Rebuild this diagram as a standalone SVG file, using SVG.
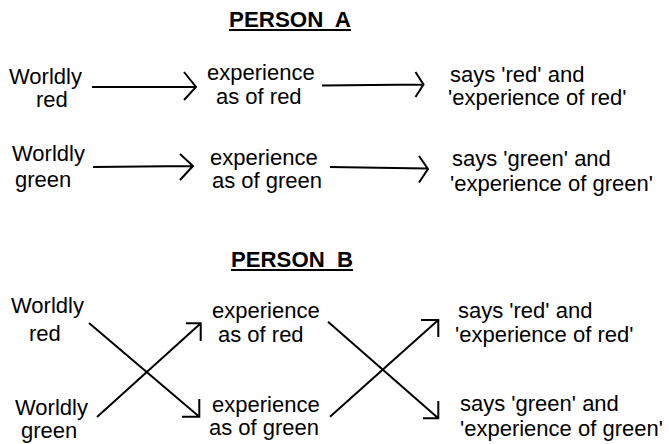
<svg xmlns="http://www.w3.org/2000/svg" width="669" height="444" viewBox="0 0 669 444">
<style>
text{font-family:"Liberation Sans",Arial,sans-serif;font-size:22px;fill:#000}
.title{font-weight:bold;white-space:pre}
.ln{fill:none;stroke:#000;stroke-width:2;stroke-linecap:butt;stroke-linejoin:miter}
</style>
<rect width="669" height="444" fill="#fff"/>
<g id="titleA">
<text class="title" x="229" y="27" textLength="122" lengthAdjust="spacingAndGlyphs" xml:space="preserve">PERSON  A</text>
<line class="ln" x1="229" y1="30" x2="351" y2="30"/>
</g>
<g id="titleB">
<text class="title" x="231" y="267" textLength="122" lengthAdjust="spacingAndGlyphs" xml:space="preserve">PERSON  B</text>
<line class="ln" x1="231" y1="270" x2="353" y2="270"/>
</g>
<g id="A-worldly-red"><text x="9" y="84">Worldly</text><text x="36" y="107">red</text></g>
<g id="A-exp-red"><text x="207" y="80">experience</text><text x="216" y="104">as of red</text></g>
<g id="A-says-red"><text x="450" y="82">says 'red' and</text><text x="448" y="105">'experience of red'</text></g>
<g id="A-worldly-green"><text x="12" y="161">Worldly</text><text x="15" y="187">green</text></g>
<g id="A-exp-green"><text x="210" y="165">experience</text><text x="212" y="188">as of green</text></g>
<g id="A-says-green"><text x="452" y="166">says 'green' and</text><text x="450" y="191">'experience of green'</text></g>
<g id="B-worldly-red"><text x="11" y="313">Worldly</text><text x="29" y="341">red</text></g>
<g id="B-exp-red"><text x="212" y="318">experience</text><text x="218" y="342">as of red</text></g>
<g id="B-says-red"><text x="458" y="318">says 'red' and</text><text x="455" y="342">'experience of red'</text></g>
<g id="B-worldly-green"><text x="15" y="415">Worldly</text><text x="21" y="438">green</text></g>
<g id="B-exp-green"><text x="212" y="412">experience</text><text x="209" y="435">as of green</text></g>
<g id="B-says-green"><text x="460" y="411">says 'green' and</text><text x="460" y="436">'experience of green'</text></g>
<g id="connectors">
<path class="ln" d="M92 87 L195 87 M184 72 L196 87 L184 100"/>
<path class="ln" d="M322 85.5 L422 84.5 M415.5 72 L423.5 84.5 L415.5 97"/>
<path class="ln" d="M93 167 L192 166 M180 154 L193 166 L180 180"/>
<path class="ln" d="M330 167 L427 168.5 M419 156 L428 169 L419 182.5"/>
<path class="ln" d="M89 323 L199 416.5 M199.3 399 L199.3 416.7 L182 416.7"/>
<path class="ln" d="M97 417 L200.5 323.5 M186 323.3 L200.7 323.3 L200.7 341"/>
<path class="ln" d="M328 321.7 L438 418 M438.3 401 L438.3 418.3 L423 418.3"/>
<path class="ln" d="M330 416.7 L438 320.3 M421 320 L438.3 320 L438.3 337"/>
</g>
</svg>
